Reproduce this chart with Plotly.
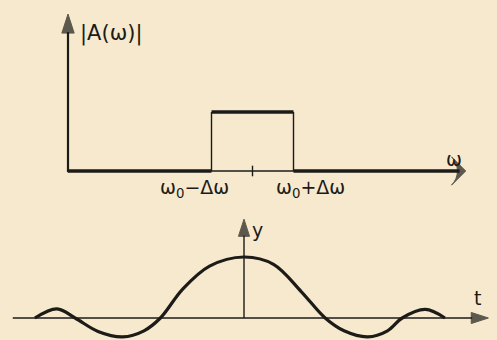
import plotly.graph_objects as go

# --- spectrum |A(w)|: flat band between w0-dw and w0+dw ---
w0 = 4.5
dw = 1.0
band_level = 1.0
w_axis_end = 9.55

# --- time signal y(t): sinc-like wave packet ---
t_vals = [-2.55, -2.28, -2.06, -1.78, -1.48, -1.22, -1.02,
          -0.75, -0.42, 0.0, 0.36, 0.70, 0.99,
          1.22, 1.51, 1.75, 1.93, 2.21, 2.45]
y_vals = [0.0, 0.15, 0.0, -0.22, -0.31, -0.21, 0.0,
          0.47, 0.85, 1.0, 0.88, 0.43, 0.0,
          -0.21, -0.31, -0.21, 0.0, 0.14, 0.0]

INK = "#1d1b18"
PAPER = "#f6e9cd"
FONT = "DejaVu Sans"

fig = go.Figure()


def axis_arrow(x0, y0, x1, y1, xa, ya, width, head, symbol="arrow"):
    """Axis line with an arrowhead marker at its far end."""
    fig.add_trace(go.Scatter(
        x=[x0, x1], y=[y0, y1], mode="lines+markers",
        line=dict(color=INK, width=width),
        marker=dict(symbol=symbol, size=[0, head], angleref="previous",
                    color=INK, line=dict(width=1, color=INK)),
        xaxis=xa, yaxis=ya, hoverinfo="skip", showlegend=False))


# spectrum axes
axis_arrow(0, -0.02, 0, 2.66, "x", "y", 2.2, 20)
axis_arrow(0, 0, 9.7, 0, "x", "y", 1.4, 20, "arrow-wide")

# thick horizontal pieces of |A(w)|
fig.add_trace(go.Scatter(
    x=[0, w0 - dw, None, w0 - dw, w0 + dw, None, w0 + dw, w_axis_end],
    y=[0, 0, None, band_level, band_level, None, 0, 0],
    mode="lines", line=dict(color=INK, width=3.6),
    xaxis="x", yaxis="y", hoverinfo="skip", showlegend=False))
# thin vertical band edges
fig.add_trace(go.Scatter(
    x=[w0 - dw, w0 - dw, None, w0 + dw, w0 + dw],
    y=[0, band_level, None, 0, band_level],
    mode="lines", line=dict(color=INK, width=1.4),
    xaxis="x", yaxis="y", hoverinfo="skip", showlegend=False))
# tick at w0
fig.add_trace(go.Scatter(
    x=[w0, w0], y=[-0.09, 0.09],
    mode="lines", line=dict(color=INK, width=1.4),
    xaxis="x", yaxis="y", hoverinfo="skip", showlegend=False))

# signal axes
axis_arrow(-2.82, 0, 2.98, 0, "x2", "y2", 1.4, 18)
axis_arrow(0, 0, 0, 1.62, "x2", "y2", 1.4, 18)

# y(t) curve
fig.add_trace(go.Scatter(
    x=t_vals, y=y_vals, mode="lines",
    line=dict(color=INK, width=3.2, shape="spline", smoothing=1.0),
    xaxis="x2", yaxis="y2", hoverinfo="skip", showlegend=False))


def label(txt, x, y, xr, yr, size, xanchor="center"):
    return dict(x=x, y=y, xref=xr, yref=yr, text=txt, showarrow=False,
                font=dict(family=FONT, size=size, color=INK),
                xanchor=xanchor, yanchor="middle")


annotations = [
    label("|A(ω)|", 1.07, 2.33, "x", "y", 21),
    label("ω<sub>0</sub>−Δω", 3.08, -0.29, "x", "y", 19),
    label("ω<sub>0</sub>+Δω", 5.92, -0.29, "x", "y", 19),
    label("ω", 9.42, 0.2, "x", "y", 19),
    label("y", 0.17, 1.44, "x2", "y2", 19),
    label("t", 2.85, 0.32, "x2", "y2", 19),
]

hidden = dict(visible=False, showgrid=False, zeroline=False, fixedrange=True)

fig.update_layout(
    width=497, height=340,
    margin=dict(l=0, r=0, t=0, b=0),
    paper_bgcolor=PAPER, plot_bgcolor=PAPER,
    xaxis=dict(domain=[0, 1], range=[-68 / 41, 429 / 41], **hidden),
    yaxis=dict(domain=[0.4, 1], range=[-33 / 59, 171 / 59], **hidden),
    xaxis2=dict(domain=[0, 1], range=[-244 / 82, 253 / 82], anchor="y2", **hidden),
    yaxis2=dict(domain=[0, 0.4], range=[-22 / 61, 114 / 61], anchor="x2", **hidden),
    annotations=annotations,
    showlegend=False,
)

fig.write_html("out.html")
